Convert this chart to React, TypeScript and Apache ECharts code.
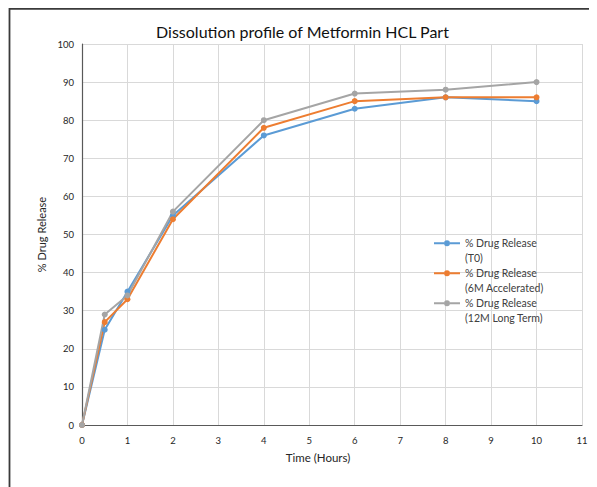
import React, { useEffect, useRef } from "react";
import * as echarts from "echarts";

const timeHours = [0, 0.5, 1, 2, 4, 6, 8, 10];
const releaseT0 = [0, 25, 35, 55, 76, 83, 86, 85];
const release6M = [0, 27, 33, 54, 78, 85, 86, 86];
const release12M = [0, 29, 34, 56, 80, 87, 88, 90];
const seriesNames = [
  "% Drug Release\n(T0)",
  "% Drug Release\n(6M Accelerated)",
  "% Drug Release\n(12M Long Term)",
];
const colors = ["#5B9BD5", "#ED7D31", "#A5A5A5"];

const FONT = "Lato, 'Open Sans', 'Noto Sans', sans-serif";

// legend icon: line + dot drawn in the upper part of a 26x29 box (aligned with first text line)
const LEGEND_ICON =
  "path://M0,0L0.01,0L0.01,0.01L0,0.01Z" +
  "M0,6.25L10,6.25L10,8.25L0,8.25Z" +
  "M16,6.25L26,6.25L26,8.25L16,8.25Z" +
  "M10,7.25A3,3,0,1,0,16,7.25A3,3,0,1,0,10,7.25Z" +
  "M25.99,28.99L26,28.99L26,29L25.99,29Z";

export default function App() {
  const ref = useRef<HTMLDivElement>(null);
  useEffect(() => {
    if (!ref.current) return;
    const chart = echarts.init(ref.current, undefined, { renderer: "svg" });
    const mk = (name: string, vals: number[], color: string) => ({
      name,
      type: "line",
      data: timeHours.map((t, i) => [t, vals[i]]),
      symbol: "circle",
      symbolSize: 6,
      lineStyle: { width: 2, color },
      itemStyle: { color },
      z: 3,
    });
    chart.setOption({
      animation: false,
      backgroundColor: "#ffffff",
      textStyle: { fontFamily: FONT },
      title: {
        text: "Dissolution profile of Metformin HCL Part",
        left: "center",
        top: 10,
        textStyle: { fontFamily: FONT, fontSize: 16, fontWeight: "normal", color: "#111" },
      },
      grid: { left: 74, right: 15, top: 36, bottom: 62, containLabel: false },
      legend: {
        orient: "vertical",
        left: 426,
        top: 228,
        padding: 0,
        icon: LEGEND_ICON,
        itemWidth: 26,
        itemHeight: 29,
        itemGap: 1,
        itemStyle: { borderWidth: 0 },
        data: seriesNames,
        textStyle: {
          fontFamily: FONT,
          fontSize: 10.5,
          color: "#404040",
          lineHeight: 14.5,
        },
      },
      xAxis: {
        type: "value",
        min: 0,
        max: 11,
        interval: 1,
        name: "Time (Hours)",
        nameLocation: "middle",
        nameGap: 26,
        nameTextStyle: { fontFamily: FONT, fontSize: 11.5, color: "#262626", padding: [0, 28, 0, 0] },
        axisLine: { lineStyle: { color: "#595959", width: 1.2 } },
        axisTick: { show: false },
        axisLabel: { fontFamily: FONT, fontSize: 9.5, color: "#262626", margin: 10 },
        splitLine: { show: true, lineStyle: { color: "#d9d9d9", width: 1 } },
      },
      yAxis: {
        type: "value",
        min: 0,
        max: 100,
        interval: 10,
        name: "% Drug Release",
        nameLocation: "middle",
        nameGap: 35,
        nameTextStyle: { fontFamily: FONT, fontSize: 11, color: "#262626" },
        axisLine: { show: true, lineStyle: { color: "#595959", width: 1.2 } },
        axisTick: { show: false },
        axisLabel: { fontFamily: FONT, fontSize: 9.5, color: "#262626", margin: 8 },
        splitLine: { show: true, lineStyle: { color: "#d9d9d9", width: 1 } },
      },
      graphic: [
        {
          type: "rect",
          shape: { x: 1.5, y: 0.8, width: 700, height: 700 },
          style: { fill: "none", stroke: "#3a3a3a", lineWidth: 1.8 },
          silent: true,
          z: 10,
        },
      ],
      series: [
        mk(seriesNames[0], releaseT0, colors[0]),
        mk(seriesNames[1], release6M, colors[1]),
        mk(seriesNames[2], release12M, colors[2]),
      ],
    });
    return () => chart.dispose();
  }, []);
  return <div ref={ref} style={{ width: 589, height: 479 }} />;
}
